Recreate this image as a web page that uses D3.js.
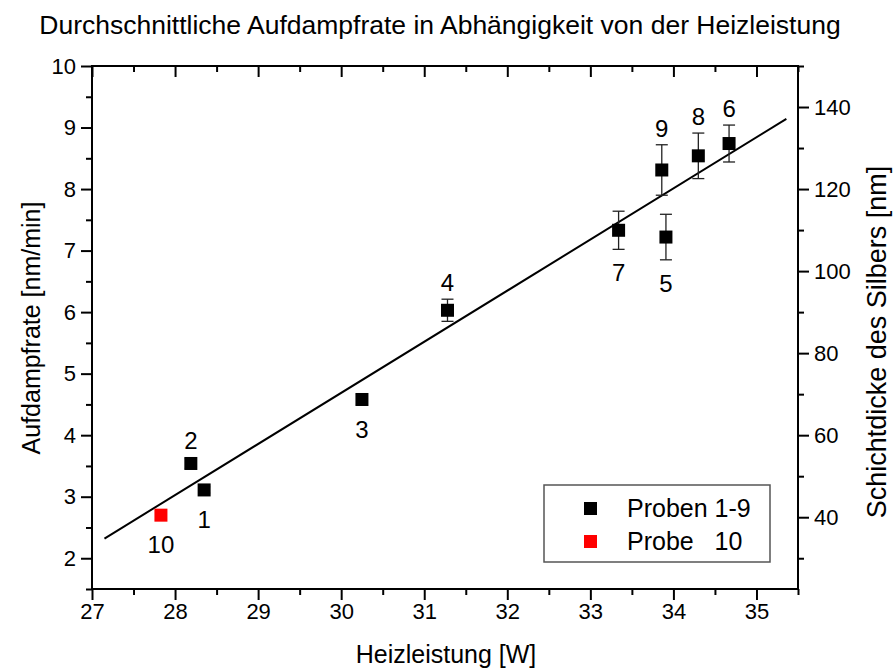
<!DOCTYPE html>
<html>
<head>
<meta charset="utf-8">
<script src="https://cdn.jsdelivr.net/npm/d3@7"></script>
<style>
body { margin: 0; background: #fff; }
svg { font-family: "Liberation Sans", Arial, sans-serif; }
</style>
</head>
<body>
<svg id="chart" width="893" height="671"></svg>
<script>
// Data
const sampleIds   = ["1", "2", "3", "4", "5", "6", "7", "8", "9", "10"];
const heatPower   = [28.35, 28.19, 30.25, 31.28, 33.91, 34.67, 33.34, 34.30, 33.86, 27.83];
const rate        = [3.11, 3.54, 4.58, 6.03, 7.22, 8.74, 7.33, 8.54, 8.31, 2.70];
const rateErr     = [0.05, 0.08, 0.08, 0.18, 0.37, 0.30, 0.31, 0.37, 0.41, 0.08];
const labelPos    = ["below", "above", "below", "above", "below", "above", "below", "above", "above", "below"];
const groups      = ["Proben 1-9", "Proben 1-9", "Proben 1-9", "Proben 1-9", "Proben 1-9", "Proben 1-9", "Proben 1-9", "Proben 1-9", "Proben 1-9", "Probe   10"];
const fitX        = [27.15, 35.36];
const fitY        = [2.32, 9.14];
const xTicks      = [27, 28, 29, 30, 31, 32, 33, 34, 35];
const yTicks      = [2, 3, 4, 5, 6, 7, 8, 9, 10];
const y2Ticks     = [40, 60, 80, 100, 120, 140];
const legendNames = ["Proben 1-9", "Probe   10"];
const legendColors = ["#000000", "#ff0000"];

const svg = d3.select("#chart");
const M = {left: 92, right: 798, top: 66, bottom: 589};

const x = d3.scaleLinear().domain([27, 35.5]).range([M.left, M.right]);
const y = d3.scaleLinear().domain([1.5, 10]).range([M.bottom, M.top]);
const y2 = d3.scaleLinear().domain([22.5, 150]).range([M.bottom, M.top]);
const color = d3.scaleOrdinal().domain(legendNames).range(legendColors);

const axisFont = "22px";

// Bottom axis (major + minor)
const xMinor = d3.range(27.5, 35.6, 1);
svg.append("g").attr("transform", `translate(0,${M.bottom})`)
  .call(d3.axisBottom(x).tickValues(xMinor).tickSize(6).tickFormat(""))
  .call(g => g.select(".domain").remove());
const gx = svg.append("g").attr("transform", `translate(0,${M.bottom})`)
  .call(d3.axisBottom(x).tickValues(xTicks).tickSize(11).tickPadding(3).tickFormat(d3.format("d")));
gx.select(".domain").remove();
gx.selectAll("text").attr("font-size", axisFont).attr("fill", "#000");
// Top ticks (inward)
svg.append("g").attr("transform", `translate(0,${M.top})`)
  .call(d3.axisTop(x).tickValues(xTicks).tickSize(-11).tickFormat(""))
  .call(g => g.select(".domain").remove());
svg.append("g").attr("transform", `translate(0,${M.top})`)
  .call(d3.axisTop(x).tickValues(xMinor).tickSize(-6).tickFormat(""))
  .call(g => g.select(".domain").remove());

// Left axis
const yMinor = d3.range(1.5, 10, 1);
svg.append("g").attr("transform", `translate(${M.left},0)`)
  .call(d3.axisLeft(y).tickValues(yMinor).tickSize(6).tickFormat(""))
  .call(g => g.select(".domain").remove());
const gy = svg.append("g").attr("transform", `translate(${M.left},0)`)
  .call(d3.axisLeft(y).tickValues(yTicks).tickSize(11).tickPadding(5).tickFormat(d3.format("d")));
gy.select(".domain").remove();
gy.selectAll("text").attr("font-size", axisFont).attr("fill", "#000");

// Right axis
const y2Minor = d3.range(30, 151, 20);
svg.append("g").attr("transform", `translate(${M.right},0)`)
  .call(d3.axisRight(y2).tickValues(y2Minor).tickSize(6).tickFormat(""))
  .call(g => g.select(".domain").remove());
const gy2 = svg.append("g").attr("transform", `translate(${M.right},0)`)
  .call(d3.axisRight(y2).tickValues(y2Ticks).tickSize(11).tickPadding(5).tickFormat(d3.format("d")));
gy2.select(".domain").remove();
gy2.selectAll("text").attr("font-size", axisFont).attr("fill", "#000");

svg.selectAll(".tick line").attr("stroke", "#000").attr("stroke-width", 2);

// Frame
svg.append("rect").attr("x", M.left).attr("y", M.top)
  .attr("width", M.right - M.left).attr("height", M.bottom - M.top)
  .attr("fill", "none").attr("stroke", "#000").attr("stroke-width", 2);

// Fit line
svg.append("line")
  .attr("x1", x(fitX[0])).attr("y1", y(fitY[0]))
  .attr("x2", x(fitX[1])).attr("y2", y(fitY[1]))
  .attr("stroke", "#000").attr("stroke-width", 2);

// Data
const data = sampleIds.map((id, i) => ({id, x: heatPower[i], y: rate[i], e: rateErr[i], pos: labelPos[i], g: groups[i]}));

// Error bars
const eb = svg.append("g").attr("stroke-width", 1.3);
data.forEach(d => {
  const c = d.g === legendNames[0] ? "#222" : color(d.g);
  eb.append("line").attr("x1", x(d.x)).attr("x2", x(d.x)).attr("y1", y(d.y - d.e)).attr("y2", y(d.y + d.e)).attr("stroke", c);
  [d.y - d.e, d.y + d.e].forEach(v => {
    eb.append("line").attr("x1", x(d.x) - 6).attr("x2", x(d.x) + 6).attr("y1", y(v)).attr("y2", y(v)).attr("stroke", c);
  });
});

// Markers
const ms = 13;
svg.append("g").selectAll("rect").data(data).join("rect")
  .attr("x", d => x(d.x) - ms / 2).attr("y", d => y(d.y) - ms / 2)
  .attr("width", ms).attr("height", ms)
  .attr("fill", d => color(d.g));

// Point labels
svg.append("g").selectAll("text").data(data).join("text")
  .attr("font-size", "24px").attr("text-anchor", "middle").attr("fill", "#000")
  .attr("x", d => x(d.x))
  .attr("y", d => {
    const e = Math.max(d.e, 0.1);
    if (d.pos === "above") return y(d.y + e) - 8;
    return y(d.y - e) + 32;
  })
  .text(d => d.id);

// Legend
const lg = svg.append("g");
lg.append("rect").attr("x", 544).attr("y", 485).attr("width", 226).attr("height", 77)
  .attr("fill", "#fff").attr("stroke", "#555").attr("stroke-width", 1.5);
legendNames.forEach((n, i) => {
  const cy = 508 + i * 33;
  lg.append("rect").attr("x", 584).attr("y", cy - 6).attr("width", 13).attr("height", 13).attr("fill", color(n));
  lg.append("text").attr("x", 627).attr("y", cy + 9).attr("font-size", "25px")
    .style("white-space", "pre").attr("fill", "#000").text(n);
});

// Titles
svg.append("text").attr("x", 440).attr("y", 34).attr("text-anchor", "middle")
  .attr("font-size", "26.5px").attr("fill", "#000")
  .text("Durchschnittliche Aufdampfrate in Abhängigkeit von der Heizleistung");
svg.append("text").attr("x", 446).attr("y", 663).attr("text-anchor", "middle")
  .attr("font-size", "25px").attr("fill", "#000").text("Heizleistung [W]");
svg.append("text").attr("transform", "translate(40,328) rotate(-90)").attr("text-anchor", "middle")
  .attr("font-size", "25px").attr("fill", "#000").text("Aufdampfrate [nm/min]");
svg.append("text").attr("transform", "translate(886,342) rotate(-90)").attr("text-anchor", "middle")
  .attr("font-size", "27px").attr("fill", "#000").text("Schichtdicke des Silbers [nm]");
</script>
</body>
</html>
